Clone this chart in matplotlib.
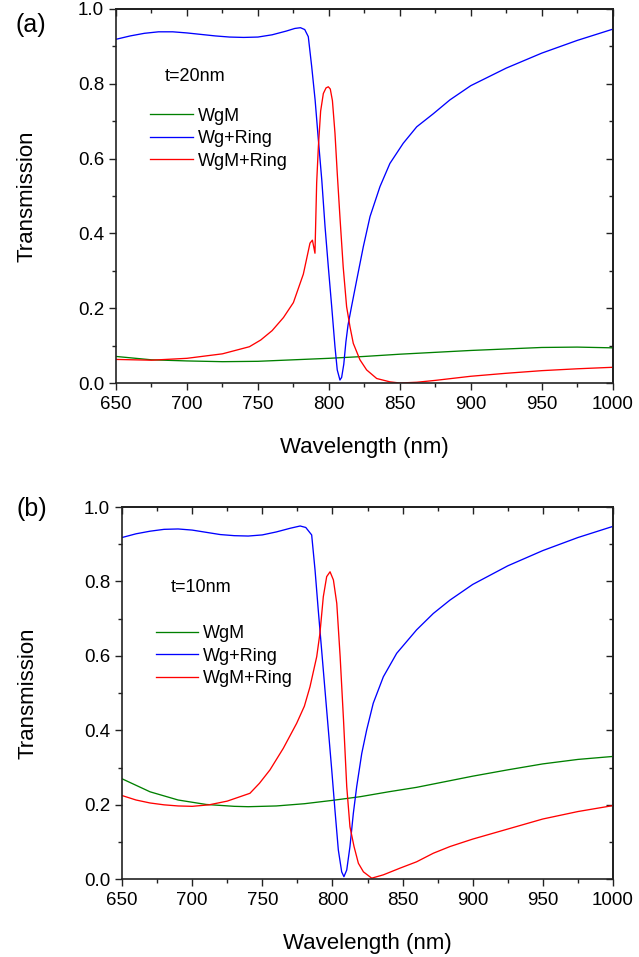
import matplotlib
matplotlib.use("Agg")
import matplotlib.pyplot as plt
from matplotlib.ticker import MultipleLocator

plt.rcParams['font.family'] = ['Liberation Sans', 'DejaVu Sans']

# ---------------- data: panel (a) t=20nm ----------------
a_wgm_x = [650, 675, 700, 725, 750, 775, 800, 825, 850, 875, 900, 925, 950, 975, 1000]
a_wgm_y = [0.071, 0.062, 0.059, 0.057, 0.058, 0.062, 0.066, 0.071, 0.077, 0.082, 0.087, 0.091, 0.095, 0.096, 0.094]

a_ring_x = [650, 660, 670, 680, 690, 700, 710, 720, 730, 740, 750, 760, 770, 776, 780, 783, 785.5,
            787.9, 790.3, 792.6, 795, 797.3, 799.6, 802, 804.3, 805.9, 807.8, 809, 810.5, 812,
            813.5, 816, 819.6, 824.3, 829, 836, 843, 852.4, 861.9, 873.6, 885.3, 900, 925, 950, 975, 1000]
a_ring_y = [0.919, 0.928, 0.935, 0.939, 0.939, 0.936, 0.932, 0.928, 0.925, 0.924, 0.925, 0.931, 0.941,
            0.948, 0.950, 0.945, 0.926, 0.846, 0.757, 0.65, 0.543, 0.418, 0.311, 0.204, 0.097, 0.035,
            0.008, 0.015, 0.05, 0.11, 0.155, 0.205, 0.275, 0.365, 0.445, 0.525, 0.587, 0.641, 0.685,
            0.72, 0.757, 0.795, 0.842, 0.882, 0.916, 0.946]

a_mring_x = [650, 675, 700, 725, 744, 752, 760, 768, 775, 782, 786.7, 788.4, 790.2, 791.4, 792.6,
             794.2, 796.1, 798, 799.6, 801, 802.5, 804.3, 805.9, 807.8, 810.1, 812.5, 814.9, 817.2,
             821.9, 826.6, 833.7, 843.1, 850, 862, 875, 900, 925, 950, 975, 1000]
a_mring_y = [0.063, 0.061, 0.066, 0.078, 0.097, 0.115, 0.14, 0.175, 0.215, 0.291, 0.374, 0.382, 0.347,
             0.535, 0.632, 0.727, 0.774, 0.789, 0.792, 0.786, 0.755, 0.668, 0.561, 0.444, 0.31, 0.204,
             0.15, 0.106, 0.062, 0.035, 0.012, 0.003, 0.0, 0.002, 0.007, 0.018, 0.026, 0.033, 0.038, 0.042]

# ---------------- data: panel (b) t=10nm ----------------
b_wgm_x = [650, 670, 690, 710, 730, 740, 760, 780, 800, 820, 840, 860, 880, 900, 925, 950, 975, 1000]
b_wgm_y = [0.27, 0.235, 0.213, 0.201, 0.196, 0.195, 0.197, 0.203, 0.212, 0.222, 0.235, 0.247, 0.262,
           0.277, 0.294, 0.31, 0.322, 0.33]

b_ring_x = [650, 660, 670, 680, 690, 700, 710, 720, 730, 740, 750, 760, 770, 777, 781, 785.2, 787.6,
            789.9, 792.3, 794.7, 797.1, 799.5, 801.8, 804.2, 806.6, 808.2, 810.2, 812.5, 814.9, 817.3,
            820.9, 824.4, 829.1, 836.3, 845.8, 860, 871.9, 883.8, 900, 925, 950, 975, 1000]
b_ring_y = [0.918, 0.928, 0.935, 0.94, 0.941, 0.938, 0.932, 0.926, 0.923, 0.922, 0.925, 0.933, 0.943,
            0.949, 0.945, 0.925, 0.831, 0.723, 0.616, 0.508, 0.401, 0.294, 0.186, 0.079, 0.02, 0.007,
            0.025, 0.088, 0.177, 0.249, 0.338, 0.401, 0.473, 0.544, 0.607, 0.67, 0.714, 0.75, 0.792,
            0.842, 0.883, 0.918, 0.948]

b_mring_x = [650, 660, 670, 680, 690, 700, 712, 725, 741.2, 748, 755.5, 765, 774.5, 780, 784, 788.8,
             791.1, 793.5, 795.9, 798.3, 800.7, 803.1, 805.5, 807.9, 810.2, 812.5, 815.4, 818.5, 822.1,
             828, 836.3, 848.2, 860, 871.9, 883.8, 900, 925, 950, 975, 1000]
b_mring_y = [0.225, 0.213, 0.205, 0.2, 0.197, 0.196, 0.2, 0.21, 0.231, 0.258, 0.294, 0.352, 0.419,
             0.465, 0.517, 0.598, 0.661, 0.759, 0.813, 0.826, 0.804, 0.741, 0.598, 0.428, 0.249, 0.141,
             0.088, 0.043, 0.02, 0.003, 0.012, 0.03, 0.047, 0.07, 0.088, 0.108, 0.135, 0.162, 0.182, 0.198]

series_labels = ["WgM", "Wg+Ring", "WgM+Ring"]
series_colors = ["#008000", "#0000ff", "#ff0000"]
x_ticks = [650, 700, 750, 800, 850, 900, 950, 1000]
y_ticks = [0.0, 0.2, 0.4, 0.6, 0.8, 1.0]

fig = plt.figure(figsize=(6.39, 9.57), dpi=100)
W, H = 639.0, 957.0

def make_axes(l, r, t, b):
    return fig.add_axes([l / W, 1 - b / H, (r - l) / W, (b - t) / H])

ax_a = make_axes(116, 612.7, 9, 383)
ax_b = make_axes(122, 613, 507, 879.3)

panels = [
    (ax_a, [(a_wgm_x, a_wgm_y), (a_ring_x, a_ring_y), (a_mring_x, a_mring_y)],
     "t=20nm", 0.82, 0.736, 374.0, 116.0),
    (ax_b, [(b_wgm_x, b_wgm_y), (b_ring_x, b_ring_y), (b_mring_x, b_mring_y)],
     "t=10nm", 0.785, 0.682, 372.3, 122.0),
]

TFS = 13.5
LFS = 16
for ax, series, ttxt, ty, legy, hpx, lpx in panels:
    for (xs, ys), lab, col in zip(series, series_labels, series_colors):
        ax.plot(xs, ys, color=col, lw=0.95, label=lab)
    ax.set_xlim(650, 1000)
    ax.set_ylim(0, 1.0)
    ax.set_xticks(x_ticks)
    ax.set_yticks(y_ticks)
    ax.set_yticklabels([f"{v:.1f}" for v in y_ticks])
    ax.xaxis.set_minor_locator(MultipleLocator(25))
    ax.yaxis.set_minor_locator(MultipleLocator(0.1))
    ax.tick_params(axis='both', which='major', labelsize=TFS, length=5, width=1.0,
                   direction='out', colors='#222222', labelcolor='black')
    ax.tick_params(axis='x', which='major', pad=4.5)
    ax.tick_params(axis='y', which='major', pad=3.5)
    ax.tick_params(axis='both', which='minor', length=3, width=1.0, direction='out', colors='#222222')
    for sp in ax.spines.values():
        sp.set_linewidth(1.2)
        sp.set_color('#222222')
    # inward mirror ticks on top and right
    sx = ax.secondary_xaxis('top')
    sx.set_xticks(x_ticks)
    sx.xaxis.set_minor_locator(MultipleLocator(25))
    sx.tick_params(which='major', direction='in', length=5, width=1.0, labeltop=False, colors='#222222')
    sx.tick_params(which='minor', direction='in', length=3, width=1.0, colors='#222222')
    sx.spines['top'].set_linewidth(1.2)
    sy = ax.secondary_yaxis('right')
    sy.set_yticks(y_ticks)
    sy.yaxis.set_minor_locator(MultipleLocator(0.1))
    sy.tick_params(which='major', direction='in', length=5, width=1.0, labelright=False, colors='#222222')
    sy.tick_params(which='minor', direction='in', length=3, width=1.0, colors='#222222')
    sy.spines['right'].set_linewidth(1.2)

    ax.set_xlabel("Wavelength (nm)", fontsize=LFS)
    ax.xaxis.set_label_coords(0.5, -64.0 / hpx)
    ax.xaxis.label.set_va('center')
    ax.set_ylabel("Transmission", fontsize=LFS)
    ax.yaxis.set_label_coords((27.0 - lpx) / 496.0, 0.5)
    ax.yaxis.label.set_va('center')

    ax.text(0.0987, ty, ttxt, transform=ax.transAxes, fontsize=13, va='center', ha='left')
    ax.legend(loc='upper left', bbox_to_anchor=(0.0685, legy), frameon=False, fontsize=13,
              handlelength=2.36, handletextpad=0.27, labelspacing=0.3, borderpad=0, borderaxespad=0)

fig.text(31 / W, 1 - 25 / H, "(a)", fontsize=18, ha='center', va='center')
fig.text(32 / W, 1 - 509 / H, "(b)", fontsize=18, ha='center', va='center')

fig.savefig("out.png", dpi=100)
